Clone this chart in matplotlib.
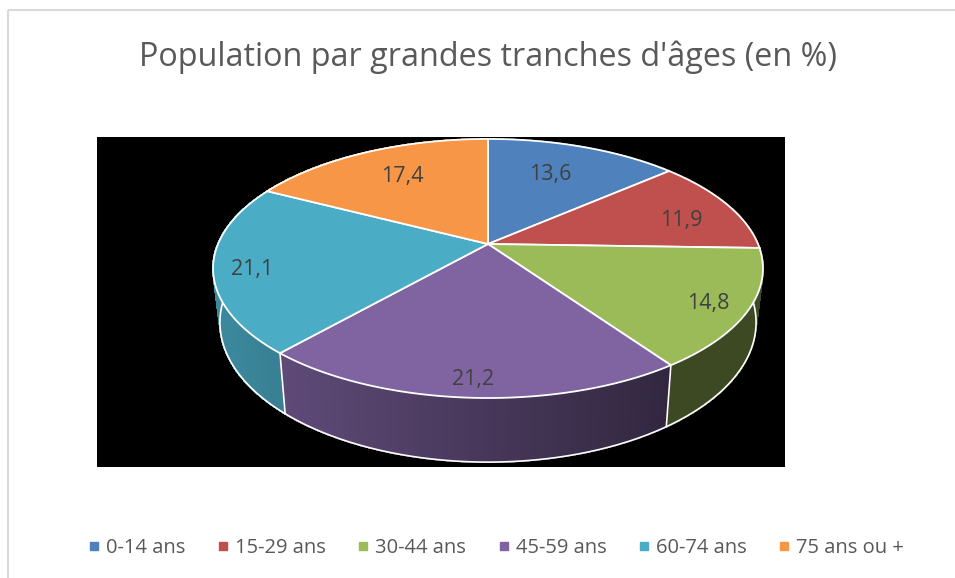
import numpy as np
import matplotlib
matplotlib.use("Agg")
import matplotlib.pyplot as plt
from matplotlib.patches import Polygon, Rectangle
from matplotlib.lines import Line2D

plt.rcParams['font.family'] = ['Open Sans', 'DejaVu Sans']

# données
categories = ["0-14 ans", "15-29 ans", "30-44 ans", "45-59 ans", "60-74 ans", "75 ans ou +"]
values = [13.6, 11.9, 14.8, 21.2, 21.1, 17.4]
value_labels = ["13,6", "11,9", "14,8", "21,2", "21,1", "17,4"]
colors = ["#4F81BD", "#C0504D", "#9BBB59", "#8064A2", "#4BACC6", "#F79646"]
title = "Population par grandes tranches d'âges (en %)"

# petits décalages des étiquettes (pixels), comme placés par Excel
label_nudge = [(-8, 2), (7, 7), (2, 5), (2, 0), (-12, 6), (4, 1)]

W, H_FIG = 955, 578
fig = plt.figure(figsize=(W / 100, H_FIG / 100), dpi=100)
ax = fig.add_axes([0, 0, 1, 1])
ax.set_xlim(0, W)
ax.set_ylim(H_FIG, 0)
ax.axis('off')

# cadre du graphique + zone de tracé noire
ax.add_patch(Rectangle((8, 10), 1000, 1000, fill=False, edgecolor="#D9D9D9", lw=1.5, zorder=0))
ax.add_patch(Rectangle((97, 137), 688, 330, facecolor="black", edgecolor="none", zorder=0))

# géométrie du camembert 3D (perspective simple)
CX, CY = 488, 244
RX, RY = 270, 124.9
K = 0.189        # perspective
DEPTH = 52       # épaisseur
SHRINK = 0.025   # bas un peu plus petit


def proj(theta, r=1.0, z=0.0):
    u = r * np.sin(theta)
    v = r * np.cos(theta)
    d = 1 + K * v
    x = CX + RX * u / d * (1 - SHRINK * z)
    y = CY - RY * v / d + DEPTH * z / d
    return x, y


def shade(x):
    t = np.clip((x - 213) / (670 - 213), 0, 1)
    return 0.8 - 0.41 * t


fracs = np.array(values) / sum(values)
edges = np.concatenate([[0], np.cumsum(fracs)]) * 2 * np.pi

# côtés (de l'arrière vers l'avant)
segs = []
for i in range(len(values)):
    th = np.linspace(edges[i], edges[i + 1], max(int(np.degrees(edges[i + 1] - edges[i])), 2))
    for a, b in zip(th[:-1], th[1:]):
        segs.append((np.cos((a + b) / 2), a, b, i))
segs.sort(key=lambda s: -s[0])
base_rgb = [np.array(matplotlib.colors.to_rgb(c)) for c in colors]
for _, a, b, i in segs:
    p = [proj(a), proj(b), proj(b, z=1), proj(a, z=1)]
    xm = (p[0][0] + p[1][0]) / 2
    c = base_rgb[i] * shade(xm)
    ax.add_patch(Polygon(p, closed=True, facecolor=c, edgecolor=c, lw=0.8,
                         antialiased=False, zorder=1))

# contours blancs des côtés
th_all = np.linspace(0, 2 * np.pi, 720)
bx, by = proj(th_all, z=1)
ax.plot(bx, by, color="white", lw=1.2, zorder=2)
for e in edges[:-1]:
    x0, y0 = proj(e)
    x1, y1 = proj(e, z=1)
    ax.plot([x0, x1], [y0, y1], color="white", lw=1.2, zorder=2)

# faces du dessus + étiquettes
for i in range(len(values)):
    th = np.linspace(edges[i], edges[i + 1], 100)
    rx, ry = proj(th)
    pts = [(CX, CY)] + list(zip(rx, ry))
    ax.add_patch(Polygon(pts, closed=True, facecolor=colors[i], edgecolor="white",
                         lw=1.3, zorder=3))
    mid = (edges[i] + edges[i + 1]) / 2
    lx, ly = proj(mid, r=0.8 - 0.1 * np.cos(mid))
    ax.text(lx + label_nudge[i][0], ly + label_nudge[i][1], value_labels[i],
            ha="center", va="center", fontsize=15.5, color="#404040", zorder=4)

ax.text(488, 57, title, ha="center", va="center", fontsize=23.3, color="#595959")

handles = [Line2D([], [], marker="s", linestyle="none", markersize=5.5,
                  markerfacecolor=c, markeredgecolor=c) for c in colors]
fig.legend(handles, categories, loc="center", bbox_to_anchor=(495 / W, 1 - 548 / H_FIG),
           ncol=6, frameon=False, fontsize=14.5, labelcolor="#595959",
           handletextpad=0.2, columnspacing=1.45, handlelength=0.8)

fig.savefig("out.png", dpi=100, facecolor="white")
